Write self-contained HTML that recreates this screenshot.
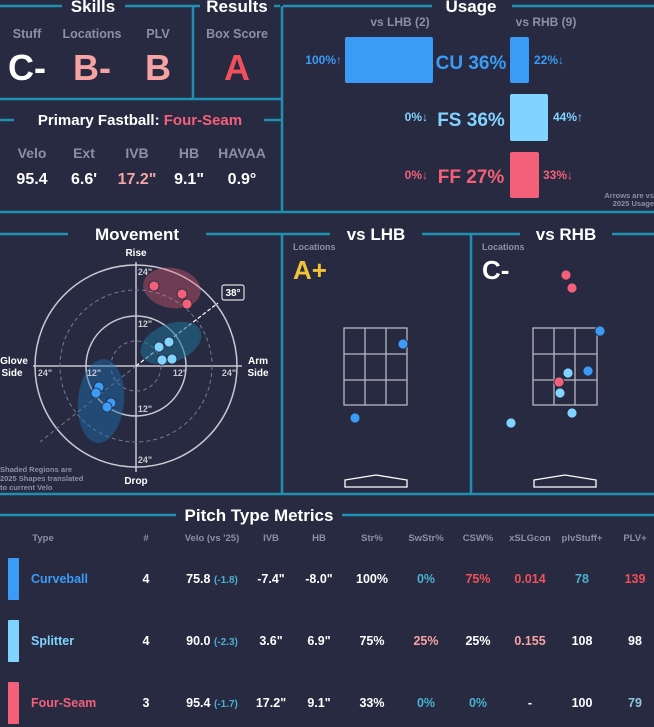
<!DOCTYPE html>
<html><head><meta charset="utf-8"><style>
html,body{margin:0;padding:0;background:#272a40;}
svg{display:block;font-family:"Liberation Sans",sans-serif;font-weight:bold;}
</style></head><body>
<svg width="654" height="727" viewBox="0 0 654 727" xmlns="http://www.w3.org/2000/svg">
<rect width="654" height="727" fill="#272a40"/>
<g stroke="#1f8fb3" stroke-width="2.5" fill="none">
<line x1="0" y1="6" x2="62" y2="6"/><line x1="125" y1="6" x2="200" y2="6"/>
<line x1="274" y1="6" x2="280" y2="6"/><line x1="283" y1="6" x2="432" y2="6"/><line x1="512" y1="6" x2="654" y2="6"/>
<line x1="193" y1="7" x2="193" y2="98"/><line x1="282" y1="6" x2="282" y2="212"/>
<line x1="0" y1="99" x2="282" y2="99"/>
<line x1="0" y1="120" x2="14" y2="120"/><line x1="264" y1="120" x2="282" y2="120"/>
<line x1="0" y1="212" x2="654" y2="212"/>
<line x1="0" y1="234" x2="68" y2="234"/><line x1="206" y1="234" x2="282" y2="234"/>
<line x1="282" y1="234" x2="330" y2="234"/><line x1="422" y1="234" x2="520" y2="234"/><line x1="612" y1="234" x2="654" y2="234"/>
<line x1="282" y1="234" x2="282" y2="494"/><line x1="471" y1="234" x2="471" y2="494"/>
<line x1="0" y1="494" x2="654" y2="494"/>
<line x1="0" y1="515" x2="176" y2="515"/><line x1="342" y1="515" x2="654" y2="515"/>
</g>
<g fill="#fff" font-size="17" text-anchor="middle">
<text x="93" y="12">Skills</text><text x="237" y="12">Results</text><text x="471" y="12">Usage</text>
<text x="137" y="240">Movement</text><text x="376" y="240">vs LHB</text><text x="566" y="240">vs RHB</text>
<text x="259" y="521">Pitch Type Metrics</text>
<text x="140" y="125" font-size="15">Primary Fastball: <tspan fill="#f4607a">Four-Seam</tspan></text>
</g>
<g fill="#8b8fa8" font-size="12.5" text-anchor="middle">
<text x="27" y="38">Stuff</text><text x="92" y="38">Locations</text><text x="158" y="38">PLV</text><text x="237" y="38">Box Score</text>
<text x="32" y="158" font-size="14">Velo</text><text x="84" y="158" font-size="14">Ext</text><text x="137" y="158" font-size="14">IVB</text><text x="189" y="158" font-size="14">HB</text><text x="242" y="158" font-size="14">HAVAA</text>
</g>
<g font-size="36" text-anchor="middle">
<text x="27" y="80" fill="#fff">C-</text><text x="92" y="80" fill="#f6a3a3">B-</text><text x="158" y="80" fill="#f6a3a3">B</text><text x="237" y="80" fill="#f1505a">A</text>
</g>
<g font-size="16" text-anchor="middle" fill="#fff">
<text x="32" y="184">95.4</text><text x="84" y="184">6.6'</text><text x="137" y="184" fill="#f6a3a3">17.2"</text><text x="189" y="184">9.1"</text><text x="242" y="184">0.9°</text>
</g>
<!-- usage -->
<g font-size="12" fill="#8b8fa8" text-anchor="middle"><text x="400" y="26">vs LHB (2)</text><text x="546" y="26">vs RHB (9)</text></g>
<rect x="345" y="37" width="88" height="46" rx="2" fill="#3a9cf6"/>
<rect x="510" y="37" width="19" height="46" rx="2" fill="#3a9cf6"/>
<rect x="510" y="94" width="38" height="47" rx="2" fill="#80d4ff"/>
<rect x="510" y="152" width="29" height="46" rx="2" fill="#f4607a"/>
<g font-size="19" text-anchor="middle"><text x="471" y="69" fill="#3a9cf6">CU 36%</text><text x="471" y="126" fill="#80d4ff">FS 36%</text><text x="471" y="183" fill="#f4607a">FF 27%</text></g>
<g font-size="12"><text x="342" y="64" text-anchor="end" fill="#3a9cf6">100%↑</text><text x="534" y="64" fill="#3a9cf6">22%↓</text>
<text x="428" y="121" text-anchor="end" fill="#80d4ff">0%↓</text><text x="553" y="121" fill="#80d4ff">44%↑</text>
<text x="428" y="179" text-anchor="end" fill="#f4607a">0%↓</text><text x="543" y="179" fill="#f4607a">33%↓</text></g>
<g font-size="7.5" fill="#8b8fa8" text-anchor="end"><text x="654" y="198">Arrows are vs</text><text x="654" y="206">2025 Usage</text></g>
<!-- movement -->
<g fill="none" stroke="#c8c8d0" stroke-width="1.5">
<circle cx="136" cy="366" r="101"/><circle cx="136" cy="366" r="50"/>
<line x1="33" y1="366" x2="242" y2="366"/><line x1="136" y1="262" x2="136" y2="472"/>
</g>
<g fill="none" stroke="#777a90" stroke-width="1" stroke-dasharray="4,3"><circle cx="136" cy="366" r="76"/><circle cx="136" cy="366" r="25"/>
<line x1="136" y1="366" x2="40" y2="442"/></g>
<line x1="136" y1="366" x2="218" y2="303" stroke="#fff" stroke-width="1.2" stroke-dasharray="4,2"/>
<rect x="222" y="285" width="22" height="15" rx="2" fill="#272a40" stroke="#ddd" stroke-width="1.2"/>
<text x="233" y="296" font-size="10" fill="#fff" text-anchor="middle">38°</text>
<ellipse cx="172" cy="288" rx="29" ry="20" fill="#f4607a" opacity="0.35" transform="rotate(10 172 288)"/>
<ellipse cx="171" cy="343" rx="32" ry="19" fill="#1f6f95" opacity="0.55" transform="rotate(-22 171 343)"/>
<ellipse cx="101" cy="401" rx="23" ry="42" fill="#1f6fb5" opacity="0.45" transform="rotate(5 101 401)"/>
<g stroke="#272a40" stroke-width="0.8">
<circle cx="154" cy="286" r="5" fill="#f4607a"/><circle cx="182" cy="294" r="5" fill="#f4607a"/><circle cx="187" cy="304" r="5" fill="#f4607a"/>
<circle cx="159" cy="347" r="5" fill="#80d4ff"/><circle cx="169" cy="342" r="5" fill="#80d4ff"/><circle cx="162" cy="360" r="5" fill="#80d4ff"/><circle cx="172" cy="359" r="5" fill="#80d4ff"/>
<circle cx="99" cy="387" r="5" fill="#3a9cf6"/><circle cx="96" cy="393" r="5" fill="#3a9cf6"/><circle cx="111" cy="403" r="5" fill="#3a9cf6"/><circle cx="107" cy="407" r="5" fill="#3a9cf6"/>
</g>
<g font-size="9" fill="#c8c8d0" text-anchor="middle">
<text x="145" y="275">24"</text><text x="145" y="327">12"</text><text x="145" y="412">12"</text><text x="145" y="463">24"</text>
<text x="45" y="376">24"</text><text x="94" y="376">12"</text><text x="180" y="376">12"</text><text x="229" y="376">24"</text>
</g>
<g font-size="10" fill="#fff" text-anchor="middle">
<text x="136" y="256">Rise</text><text x="136" y="484">Drop</text>
<text x="14" y="364">Glove</text><text x="12" y="376">Side</text><text x="258" y="364">Arm</text><text x="258" y="376">Side</text>
</g>
<g font-size="7.5" fill="#8b8fa8"><text x="0" y="472">Shaded Regions are</text><text x="0" y="481">2025 Shapes translated</text><text x="0" y="490">to current Velo</text></g>
<!-- location -->
<g font-size="9" fill="#8b8fa8"><text x="293" y="250">Locations</text><text x="482" y="250">Locations</text></g>
<text x="293" y="279" font-size="26" fill="#f2c23a">A+</text><text x="482" y="279" font-size="26" fill="#fff">C-</text>
<g fill="none" stroke="#b8b8c2" stroke-width="1.3">
<rect x="344" y="328" width="63" height="77"/><line x1="365" y1="328" x2="365" y2="405"/><line x1="386" y1="328" x2="386" y2="405"/><line x1="344" y1="354" x2="407" y2="354"/><line x1="344" y1="380" x2="407" y2="380"/>
<rect x="533" y="328" width="64" height="77"/><line x1="554" y1="328" x2="554" y2="405"/><line x1="575" y1="328" x2="575" y2="405"/><line x1="533" y1="354" x2="597" y2="354"/><line x1="533" y1="380" x2="597" y2="380"/>
</g>
<g fill="none" stroke="#fff" stroke-width="1.3">
<path d="M345 480 L376 475 L407 480 L407 487 L345 487 Z"/><path d="M534 480 L565 475 L596 480 L596 487 L534 487 Z"/>
</g>
<g stroke="#272a40" stroke-width="0.8">
<circle cx="403" cy="344" r="5" fill="#3a9cf6"/><circle cx="355" cy="418" r="5" fill="#3a9cf6"/>
<circle cx="566" cy="275" r="5" fill="#f4607a"/><circle cx="572" cy="288" r="5" fill="#f4607a"/>
<circle cx="600" cy="331" r="5" fill="#3a9cf6"/><circle cx="588" cy="371" r="5" fill="#3a9cf6"/>
<circle cx="568" cy="373" r="5" fill="#80d4ff"/><circle cx="559" cy="382" r="5" fill="#f4607a"/><circle cx="560" cy="393" r="5" fill="#80d4ff"/>
<circle cx="572" cy="413" r="5" fill="#80d4ff"/><circle cx="511" cy="423" r="5" fill="#80d4ff"/>
</g>
<!-- table -->
<g font-size="9.5" fill="#8b8fa8" text-anchor="middle">
<text x="43" y="541">Type</text><text x="146" y="541">#</text><text x="212" y="541">Velo (vs '25)</text><text x="271" y="541">IVB</text><text x="319" y="541">HB</text><text x="372" y="541">Str%</text><text x="426" y="541">SwStr%</text><text x="478" y="541">CSW%</text><text x="530" y="541">xSLGcon</text><text x="582" y="541">plvStuff+</text><text x="635" y="541">PLV+</text>
</g>
<rect x="8" y="558" width="11" height="42" rx="1" fill="#3a9cf6"/><rect x="8" y="620" width="11" height="42" rx="1" fill="#80d4ff"/><rect x="8" y="682" width="11" height="42" rx="1" fill="#f4607a"/>
<g font-size="12.5" fill="#fff" text-anchor="middle">
<text x="31" y="583" text-anchor="start" fill="#3a9cf6">Curveball</text><text x="146" y="583">4</text><text x="212" y="583">75.8 <tspan font-size="10" fill="#4ab0d0">(-1.8)</tspan></text><text x="271" y="583">-7.4"</text><text x="319" y="583">-8.0"</text><text x="372" y="583">100%</text><text x="426" y="583" fill="#4ab0d0">0%</text><text x="478" y="583" fill="#f1505a">75%</text><text x="530" y="583" fill="#f1505a">0.014</text><text x="582" y="583" fill="#4ab0d0">78</text><text x="635" y="583" fill="#f1505a">139</text>
<text x="31" y="645" text-anchor="start" fill="#80d4ff">Splitter</text><text x="146" y="645">4</text><text x="212" y="645">90.0 <tspan font-size="10" fill="#4ab0d0">(-2.3)</tspan></text><text x="271" y="645">3.6"</text><text x="319" y="645">6.9"</text><text x="372" y="645">75%</text><text x="426" y="645" fill="#f6a3a3">25%</text><text x="478" y="645">25%</text><text x="530" y="645" fill="#f6a3a3">0.155</text><text x="582" y="645">108</text><text x="635" y="645">98</text>
<text x="31" y="707" text-anchor="start" fill="#f4607a">Four-Seam</text><text x="146" y="707">3</text><text x="212" y="707">95.4 <tspan font-size="10" fill="#4ab0d0">(-1.7)</tspan></text><text x="271" y="707">17.2"</text><text x="319" y="707">9.1"</text><text x="372" y="707">33%</text><text x="426" y="707" fill="#4ab0d0">0%</text><text x="478" y="707" fill="#4ab0d0">0%</text><text x="530" y="707">-</text><text x="582" y="707">100</text><text x="635" y="707" fill="#8fc8e0">79</text>
</g>
</svg>
</body></html>
